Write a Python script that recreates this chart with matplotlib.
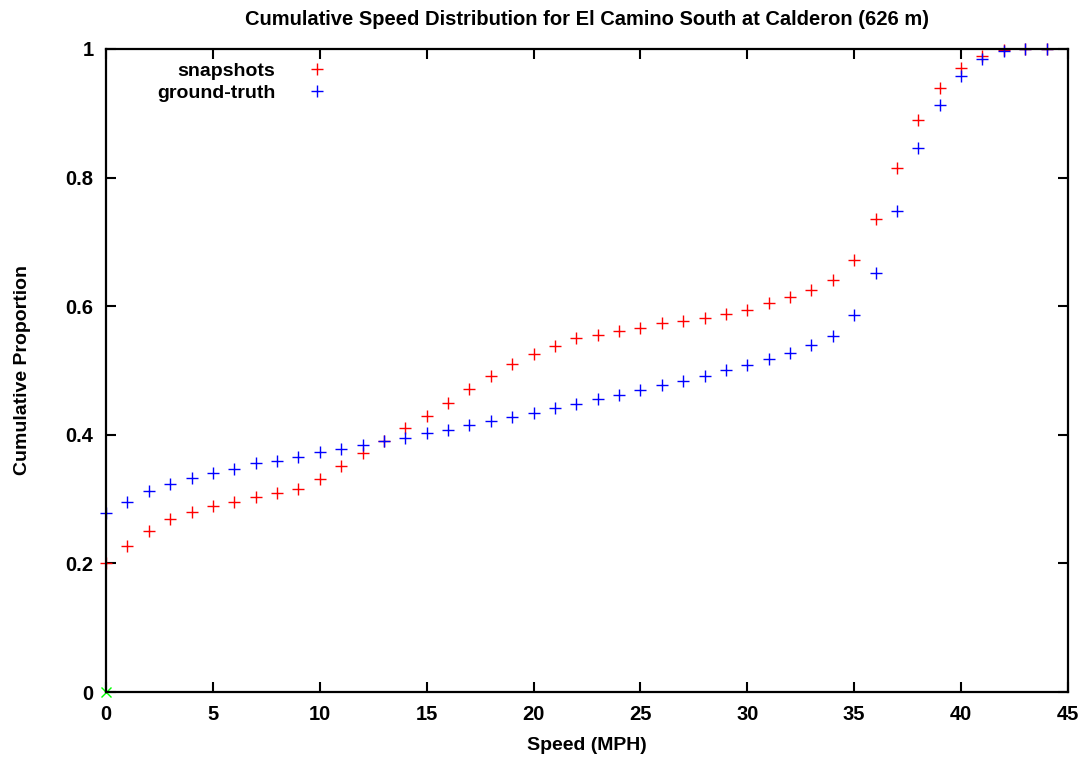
import matplotlib
matplotlib.use("Agg")
import matplotlib.pyplot as plt

plt.rcParams['font.family'] = ['Liberation Sans', 'DejaVu Sans']

speed = list(range(0, 45))
snapshots = [0.200, 0.227, 0.251, 0.269, 0.280, 0.289, 0.296, 0.303, 0.310, 0.315,
             0.332, 0.352, 0.371, 0.390, 0.411, 0.429, 0.449, 0.471, 0.491, 0.510,
             0.526, 0.538, 0.550, 0.555, 0.561, 0.566, 0.574, 0.577, 0.582, 0.588,
             0.594, 0.605, 0.614, 0.625, 0.640, 0.672, 0.736, 0.815, 0.890, 0.939,
             0.971, 0.989, 0.998, 1.000, 1.000]
ground_truth = [0.278, 0.296, 0.312, 0.324, 0.333, 0.341, 0.347, 0.356, 0.360, 0.366,
                0.373, 0.378, 0.384, 0.390, 0.395, 0.403, 0.407, 0.415, 0.421, 0.428,
                0.434, 0.442, 0.448, 0.456, 0.462, 0.470, 0.477, 0.484, 0.491, 0.500,
                0.509, 0.518, 0.527, 0.539, 0.554, 0.586, 0.652, 0.748, 0.846, 0.913,
                0.958, 0.984, 0.997, 1.000, 1.000]
origin_x = [0]
origin_y = [0]

xticks = [0, 5, 10, 15, 20, 25, 30, 35, 40, 45]
yticks = [0, 0.2, 0.4, 0.6, 0.8, 1.0]
yticklabels = ["0", "0.2", "0.4", "0.6", "0.8", "1"]

fig = plt.figure(figsize=(10.83, 7.61), dpi=100)
ax = fig.add_axes([106/1083, 69/761, (1068-106)/1083, (692-49)/761])

ax.plot(speed, snapshots, linestyle='none', marker='+', color='#ff0000',
        markersize=9, markeredgewidth=1.0, clip_on=False, label='snapshots')
ax.plot(speed, ground_truth, linestyle='none', marker='+', color='#0000ff',
        markersize=9, markeredgewidth=1.0, clip_on=False, label='ground-truth')
ax.plot(origin_x, origin_y, linestyle='none', marker='x', color='#00ff00',
        markersize=7, markeredgewidth=1.0, clip_on=False)

ax.set_xlim(0, 45)
ax.set_ylim(0, 1)
ax.set_xticks(xticks)
ax.set_xticklabels([str(t) for t in xticks])
ax.set_yticks(yticks)
ax.set_yticklabels(yticklabels)

ax.tick_params(direction='in', length=7, width=1.5, top=True, right=True,
               labelsize=14.5, pad=9)
for lab in ax.get_xticklabels() + ax.get_yticklabels():
    lab.set_fontweight('bold')
for sp in ax.spines.values():
    sp.set_linewidth(1.6)

ax.set_title('Cumulative Speed Distribution for El Camino South at Calderon (626 m)',
             fontsize=14.5, fontweight='bold', pad=17)
ax.set_xlabel('Speed (MPH)', fontsize=14, fontweight='bold', labelpad=10)
ax.set_ylabel('Cumulative Proportion', fontsize=14, fontweight='bold')
ax.yaxis.set_label_coords(-0.078, 0.5)

leg = ax.legend(loc='upper right', bbox_to_anchor=(0.25, 1.006), frameon=False,
                markerfirst=False, fontsize=14, handlelength=1.2,
                handletextpad=1.55, labelspacing=0.22)
for t in leg.get_texts():
    t.set_fontweight('bold')
leg._legend_box.align = 'right'

fig.savefig('out.png', dpi=100)
